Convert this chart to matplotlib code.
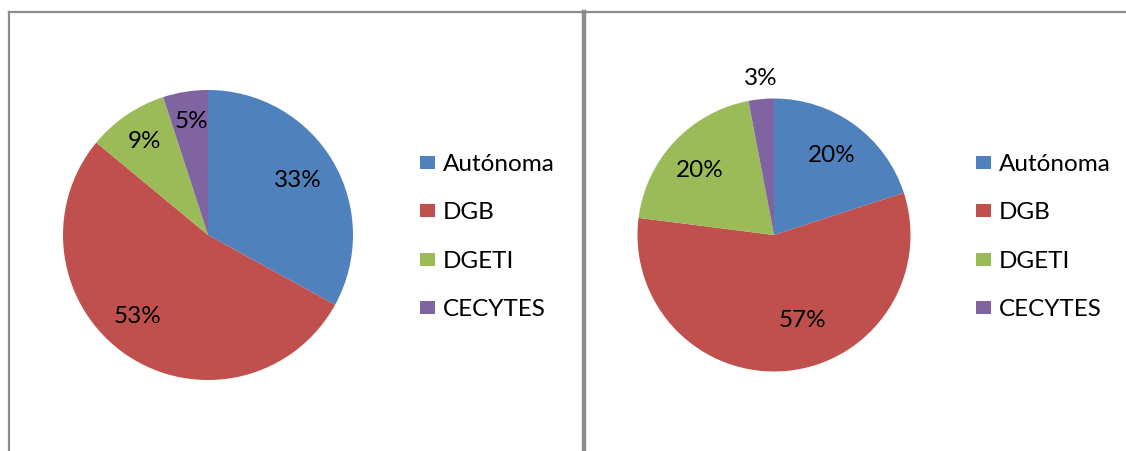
import matplotlib
matplotlib.use("Agg")
import matplotlib.pyplot as plt
from matplotlib.lines import Line2D

plt.rcParams['font.family'] = ['Lato', 'DejaVu Sans']

# datos
categorias = ["Autónoma", "DGB", "DGETI", "CECYTES"]
colores = ["#4F81BD", "#C0504D", "#9BBB59", "#8064A2"]
valores_izq = [33, 53, 9, 5]
valores_der = [20, 57, 20, 3]

# posiciones de las etiquetas (unidades del radio)
pos_izq = [(0.621, 0.379), (-0.483, -0.559), (-0.441, 0.648), (-0.117, 0.786)]
pos_der = [(0.425, 0.579), (0.205, -0.630), (-0.542, 0.476), (-0.095, 1.150)]

W, H = 1126, 451
fig = plt.figure(figsize=(W / 100, H / 100), dpi=100)
fig.patch.set_facecolor("white")
FS = 17.5


def pastel(cx, cy, r, valores, posiciones, x_leyenda):
    ax = fig.add_axes([(cx - r) / W, (H - cy - r) / H, 2 * r / W, 2 * r / H])
    cunas, _ = ax.pie(valores, colors=colores, startangle=90, counterclock=False,
                      radius=1, wedgeprops=dict(linewidth=0))
    for v, (x, y) in zip(valores, posiciones):
        ax.text(x, y, f"{v}%", ha="center", va="center", fontsize=FS, color="black")
    ax.set_xlim(-1, 1)
    ax.set_ylim(-1, 1)
    ax.axis("off")
    fig.legend(cunas, categorias, loc="upper left",
               bbox_to_anchor=(x_leyenda / W, (H - 154) / H),
               frameon=False, fontsize=FS, handlelength=0.62, handleheight=0.45,
               handletextpad=0.33, labelspacing=1.13, borderpad=0, borderaxespad=0)


pastel(208, 235, 145, valores_izq, pos_izq, 420)
pastel(774, 235, 136.5, valores_der, pos_der, 976)

# marcos grises
gris = "#8c8c8c"
fig.add_artist(Line2D([9 / W, 1], [1 - 12 / H, 1 - 12 / H], color=gris, lw=1.6))
fig.add_artist(Line2D([9 / W, 9 / W], [0, 1 - 12 / H], color=gris, lw=1.6))
fig.add_artist(Line2D([584 / W, 584 / W], [0, 1 - 12 / H], color=gris, lw=3.2))

fig.savefig("out.png", dpi=100, facecolor="white")
